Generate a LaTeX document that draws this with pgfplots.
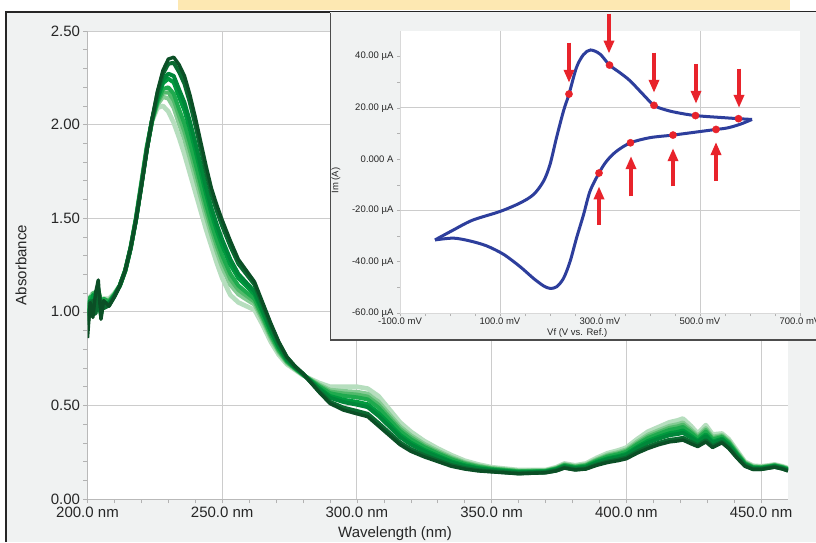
\documentclass[border=0pt]{standalone}
\usepackage{fontspec}
\setmainfont{Liberation Sans}
\usepackage{pgfplots}
\usepackage{pgfplotstable}
\pgfplotsset{compat=1.18}
\usetikzlibrary{arrows.meta}

\definecolor{panel}{HTML}{F0F2F2}
\definecolor{band}{HTML}{FDE8B2}
\definecolor{cvblue}{HTML}{2D3E9C}
\definecolor{cvred}{HTML}{E8232B}
\definecolor{g1}{HTML}{0B4F26}
\definecolor{g2}{HTML}{0A6A31}
\definecolor{g3}{HTML}{00873A}
\definecolor{g4}{HTML}{009A3E}
\definecolor{g5}{HTML}{1FAA4E}
\definecolor{g6}{HTML}{52B96B}
\definecolor{g7}{HTML}{86CB94}
\definecolor{g8}{HTML}{B6DEBE}

% absorbance spectra, darkest (a) to lightest (h)
\pgfplotstableread{
x a b c d e f g h
200 0.86 0.93 0.98 1.02 0.95 1.00 0.97 1.00
201 1.05 1.02 1.06 1.00 1.08 1.04 1.07 1.08
202 0.97 1.06 1.01 1.09 1.03 1.10 1.02 1.10
203 1.10 0.99 1.08 1.05 1.11 1.02 1.09 1.04
204 1.17 1.12 1.04 1.10 1.06 1.12 1.05 1.08
205 0.96 1.04 0.99 1.03 0.98 1.06 1.01 1.06
206 1.06 1.02 1.05 1.03 1.07 1.04 1.06 1.07
208 1.03 1.034 1.044 1.048 1.054 1.058 1.062 1.07
210 1.08 1.082 1.087 1.089 1.092 1.094 1.096 1.10
212 1.14 1.14 1.14 1.14 1.14 1.14 1.14 1.14
214 1.22 1.22 1.22 1.22 1.22 1.22 1.22 1.22
216 1.34 1.34 1.34 1.34 1.34 1.34 1.34 1.34
218 1.49 1.49 1.493 1.494 1.496 1.497 1.498 1.50
220 1.67 1.672 1.677 1.679 1.682 1.684 1.686 1.69
222 1.86 1.862 1.867 1.869 1.872 1.874 1.876 1.88
224 2.03 2.029 2.027 2.026 2.024 2.023 2.022 2.02
226 2.18 2.171 2.149 2.140 2.125 2.116 2.107 2.09
228 2.29 2.271 2.238 2.221 2.19 2.17 2.148 2.10
230 2.35 2.325 2.272 2.245 2.199 2.172 2.14 2.07
232 2.36 2.33 2.26 2.225 2.165 2.13 2.09 2.01
234 2.32 2.281 2.187 2.148 2.082 2.043 2.004 1.93
236 2.26 2.218 2.117 2.075 2.004 1.962 1.92 1.84
238 2.16 2.118 2.017 1.975 1.904 1.862 1.82 1.74
240 2.04 2.0 1.904 1.864 1.796 1.756 1.716 1.64
242 1.91 1.873 1.784 1.747 1.684 1.647 1.61 1.54
244 1.78 1.746 1.664 1.63 1.573 1.539 1.505 1.44
246 1.66 1.629 1.555 1.524 1.471 1.44 1.409 1.35
248 1.57 1.539 1.465 1.434 1.381 1.35 1.319 1.26
250 1.49 1.459 1.385 1.354 1.301 1.27 1.239 1.18
253 1.38 1.351 1.281 1.252 1.203 1.174 1.145 1.09
256 1.28 1.257 1.202 1.179 1.14 1.117 1.094 1.05
259 1.22 1.201 1.155 1.136 1.104 1.085 1.066 1.03
262 1.16 1.145 1.109 1.094 1.069 1.054 1.039 1.01
265 1.05 1.038 1.009 0.997 0.977 0.965 0.953 0.93
268 0.94 0.93 0.906 0.896 0.879 0.869 0.859 0.84
271 0.84 0.833 0.816 0.809 0.797 0.79 0.783 0.77
274 0.76 0.756 0.746 0.742 0.736 0.732 0.728 0.72
277 0.71 0.708 0.703 0.701 0.698 0.696 0.694 0.69
280 0.67 0.669 0.667 0.666 0.664 0.663 0.662 0.66
283 0.62 0.622 0.627 0.629 0.632 0.634 0.636 0.64
286 0.57 0.575 0.587 0.592 0.601 0.606 0.611 0.62
290 0.51 0.519 0.541 0.55 0.565 0.574 0.583 0.60
295 0.475 0.488 0.518 0.53 0.551 0.564 0.576 0.60
300 0.455 0.47 0.504 0.519 0.543 0.558 0.572 0.60
304 0.44 0.455 0.491 0.506 0.532 0.547 0.562 0.59
308 0.39 0.406 0.444 0.46 0.488 0.504 0.52 0.55
312 0.34 0.354 0.388 0.402 0.425 0.439 0.453 0.48
316 0.29 0.302 0.331 0.343 0.363 0.375 0.387 0.41
320 0.255 0.266 0.291 0.301 0.319 0.330 0.34 0.36
325 0.225 0.234 0.254 0.262 0.277 0.285 0.294 0.31
330 0.20 0.207 0.224 0.231 0.243 0.25 0.257 0.27
335 0.175 0.181 0.195 0.201 0.212 0.218 0.224 0.235
340 0.16 0.165 0.175 0.18 0.187 0.192 0.196 0.205
345 0.15 0.154 0.162 0.165 0.171 0.175 0.178 0.185
350 0.145 0.148 0.154 0.156 0.16 0.163 0.165 0.17
360 0.135 0.137 0.142 0.144 0.147 0.149 0.151 0.155
370 0.14 0.142 0.145 0.147 0.149 0.151 0.152 0.155
374 0.15 0.152 0.157 0.159 0.162 0.164 0.166 0.17
377 0.165 0.168 0.174 0.176 0.18 0.183 0.185 0.19
381 0.155 0.158 0.164 0.166 0.17 0.173 0.175 0.18
385 0.16 0.163 0.17 0.173 0.178 0.181 0.184 0.19
389 0.18 0.184 0.194 0.198 0.204 0.208 0.212 0.22
393 0.195 0.2 0.212 0.217 0.226 0.231 0.236 0.245
397 0.205 0.211 0.224 0.229 0.239 0.244 0.25 0.26
400 0.215 0.221 0.235 0.241 0.252 0.258 0.264 0.275
404 0.245 0.253 0.271 0.278 0.291 0.298 0.306 0.32
408 0.27 0.279 0.301 0.31 0.325 0.334 0.343 0.36
412 0.29 0.3 0.322 0.332 0.348 0.357 0.367 0.385
416 0.305 0.316 0.341 0.351 0.369 0.38 0.39 0.41
419 0.31 0.321 0.347 0.358 0.377 0.388 0.399 0.42
421 0.315 0.327 0.354 0.366 0.385 0.397 0.408 0.43
424 0.295 0.305 0.327 0.337 0.353 0.362 0.372 0.39
426.5 0.28 0.287 0.304 0.311 0.323 0.33 0.337 0.35
429.5 0.305 0.314 0.336 0.345 0.36 0.369 0.378 0.395
432 0.275 0.282 0.299 0.306 0.318 0.325 0.332 0.345
435.5 0.30 0.305 0.317 0.322 0.331 0.336 0.341 0.35
438 0.27 0.275 0.287 0.292 0.301 0.306 0.311 0.32
441 0.22 0.224 0.234 0.238 0.244 0.248 0.252 0.26
444 0.175 0.178 0.184 0.186 0.19 0.193 0.195 0.20
447 0.158 0.16 0.165 0.167 0.17 0.172 0.174 0.178
450 0.158 0.16 0.164 0.165 0.168 0.17 0.172 0.175
453 0.165 0.167 0.17 0.172 0.174 0.176 0.177 0.18
455 0.17 0.172 0.175 0.177 0.179 0.181 0.182 0.185
458 0.16 0.162 0.165 0.167 0.169 0.171 0.172 0.175
460 0.15 0.152 0.155 0.157 0.159 0.161 0.162 0.165
}\spectra

% cyclic voltammogram (mV, uA)
\pgfplotstableread{
x y
-30 -31.5
5 -27.8
45 -23.8
100 -20.4
140 -17.1
167 -13.8
187 -8.6
200 -2.1
213 8.4
227 18.8
238 25.4
253 35.8
267 40.8
281 42.6
300 41.0
319 36.7
340 33.7
360 30.6
385 25.5
408 21.0
430 19.3
453 18.2
491 17.0
547 16.2
577 15.8
604 15.5
}\cvfwd
\pgfplotstableread{
x y
604 15.5
580 13.6
555 12.2
532 11.6
493 10.6
446 9.4
400 8.4
361 6.4
333 3.1
313 -0.8
298 -5.4
280 -12.5
267 -21.7
253 -30.8
240 -40.0
227 -46.5
213 -49.8
200 -50.4
187 -49.4
167 -46.5
140 -41.9
107 -37.1
73 -33.8
40 -31.9
7 -30.8
-30 -31.5
}\cvrev
\pgfplotstableread{
x y
238 25.4
319 36.7
408 21.0
491 17.0
577 15.8
532 11.6
446 9.4
361 6.4
298 -5.4
}\cvpts
\pgfplotstableread{
x y v
238 45.5 -15.7
318 56.8 -15.6
408 41.6 -15.7
492 37.2 -15.6
578 35.3 -15.3
532 -8.6 15.3
446 -10.6 14.9
362 -14.5 15.7
298 -25.5 14.9
}\cvarrows

\begin{document}
\begin{tikzpicture}
\useasboundingbox (0pt,0pt) rectangle (816pt,542pt);
\fill[white] (0pt,0pt) rectangle (816pt,542pt);
\fill[band] (178pt,532pt) rectangle (790pt,542pt);
\fill[panel] (5pt,0pt) rectangle (816pt,530pt);
\draw[line width=2pt, black!85] (5.5pt,0pt) -- (5.5pt,529.5pt) -- (816pt,529.5pt);

\begin{axis}[
    at={(87.5pt,43pt)}, anchor=south west,
    scale only axis, width=700.5pt, height=468pt,
    xmin=200, xmax=460, ymin=0, ymax=2.5,
    axis background/.style={fill=white},
    axis x line*=bottom, axis y line*=left,
    axis line style={gray!55, line width=0.8pt, -},
    xtick={200,250,...,450}, minor x tick num=4,
    ytick={0,0.5,...,2.5}, minor y tick num=4,
    tick align=outside, major tick length=4pt, minor tick length=4pt,
    tick style={gray!60, line width=0.6pt},
    grid=major, major grid style={gray!40, line width=0.9pt},
    /pgf/number format/assume math mode=true,
    xticklabel={\pgfmathprintnumber[fixed,fixed zerofill,precision=1]{\tick} nm},
    yticklabel style={/pgf/number format/.cd, fixed, fixed zerofill, precision=2},
    ticklabel style={font=\fontsize{15}{17}\selectfont, text=black!85},
    xlabel={Wavelength (nm)}, ylabel={Absorbance},
    label style={font=\fontsize{15}{17}\selectfont, text=black!85},
    xlabel style={at={(axis description cs:0.439,-0.073)}, anchor=center},
    ylabel style={at={(axis description cs:-0.095,0.5)}, anchor=center},
    every axis plot/.append style={line width=4pt, line join=round},
]
\addplot[g8, line width=4.6pt] table[x=x,y=h]{\spectra};
\addplot[g7, line width=4.3pt] table[x=x,y=g]{\spectra};
\addplot[g6] table[x=x,y=f]{\spectra};
\addplot[g5] table[x=x,y=e]{\spectra};
\addplot[g4] table[x=x,y=d]{\spectra};
\addplot[g3] table[x=x,y=c]{\spectra};
\addplot[g2] table[x=x,y=b]{\spectra};
\addplot[g1, line width=3.4pt] table[x=x,y=a]{\spectra};
\end{axis}

% inset panel
\fill[panel] (330pt,202pt) rectangle (816pt,529.5pt);
\draw[line width=1.5pt, black!70] (330.5pt,528.5pt) -- (330.5pt,202pt) -- (816pt,202pt);

\begin{axis}[
    at={(400pt,229pt)}, anchor=south west,
    scale only axis, width=400pt, height=282pt,
    xmin=-100, xmax=700, ymin=-60, ymax=50,
    clip=false,
    axis background/.style={fill=white},
    axis x line*=bottom, axis y line*=left,
    axis line style={gray!30, -},
    xtick={-100,100,...,700}, minor x tick num=3,
    xticklabels={-100.0 mV,100.0 mV,300.0 mV,500.0 mV,700.0 mV},
    ytick={-60,-40,...,40}, minor y tick num=1,
    yticklabels={-60.00 µA,-40.00 µA,-20.00 µA,0.000 A,20.00 µA,40.00 µA},
    tick align=outside, major tick length=3pt, minor tick length=3pt,
    tick style={gray!60, line width=0.5pt},
    ticklabel style={font=\fontsize{9.5}{11}\selectfont, text=black!85},
    xticklabel style={yshift=2pt},
    xlabel={Vf (V vs. Ref.)}, ylabel={Im (A)},
    label style={font=\fontsize{9.5}{11}\selectfont, text=black!85},
    xlabel style={at={(axis description cs:0.443,-0.07)}, anchor=center},
    ylabel style={at={(axis description cs:-0.16,0.47)}, anchor=center},
]
\draw[gray!40, line width=0.9pt] (axis cs:100,-60) -- (axis cs:100,50);
\draw[gray!40, line width=0.9pt] (axis cs:500,-60) -- (axis cs:500,50);
\draw[gray!40, line width=0.9pt] (axis cs:-100,20) -- (axis cs:700,20);
\draw[gray!40, line width=0.9pt] (axis cs:-100,-20) -- (axis cs:700,-20);
\addplot[cvblue, line width=3pt, smooth, tension=0.5] table{\cvfwd};
\addplot[cvblue, line width=3pt, smooth, tension=0.5] table{\cvrev};
\addplot[only marks, mark=*, mark size=3.6pt, cvred] table{\cvpts};
\addplot[cvred, line width=3.6pt, -{Triangle[width=10pt,length=13pt]},
    quiver={u=0, v=\thisrow{v}}] table{\cvarrows};
\end{axis}
\end{tikzpicture}
\end{document}
